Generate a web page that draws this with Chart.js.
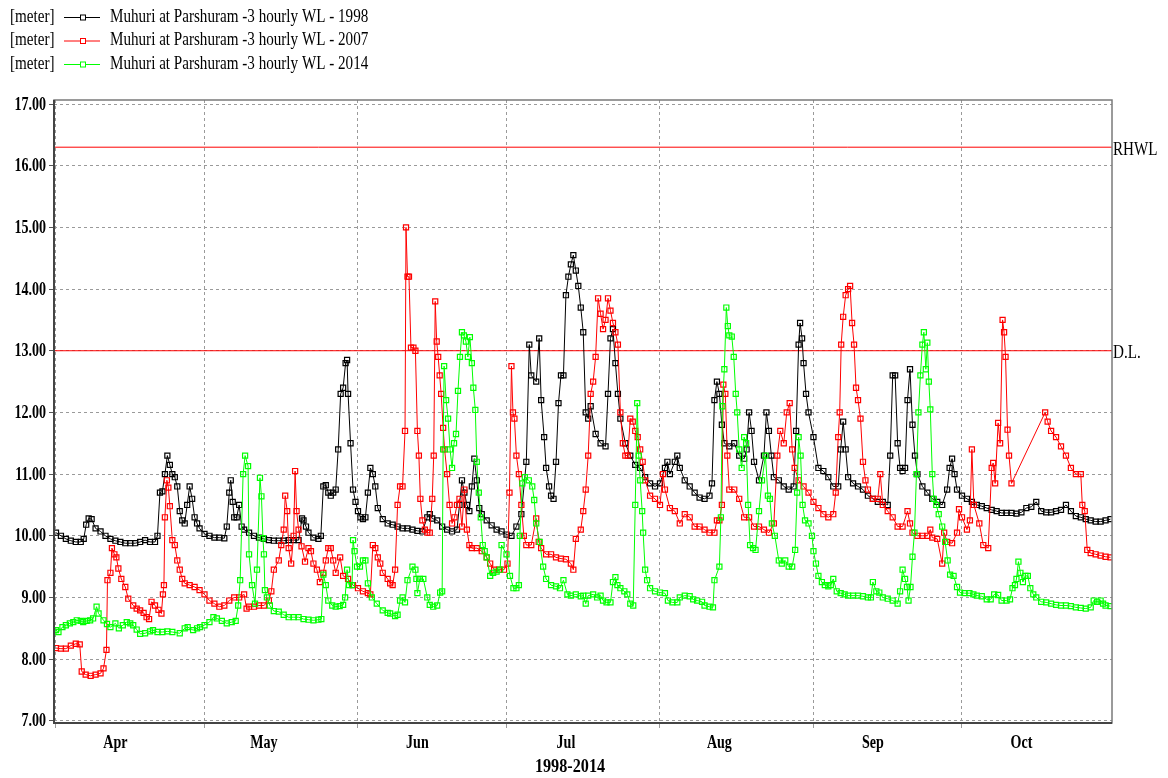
<!DOCTYPE html>
<html>
<head>
<meta charset="utf-8">
<title>Muhuri at Parshuram - 3 hourly WL</title>
<script src="https://cdn.jsdelivr.net/npm/chart.js@4.4.1/dist/chart.umd.min.js"></script>
<style>
  html, body { margin: 0; padding: 0; background: #fff; }
  #wrap { width: 1168px; height: 778px; position: relative; }
</style>
</head>
<body>
<div id="wrap"><canvas id="wlChart"></canvas></div>
<script>
// x = days counted from 1 April, y = water level in meter
const monthNames = ['Apr', 'May', 'Jun', 'Jul', 'Aug', 'Sep', 'Oct'];
const monthStartDays = [0, 30, 61, 91, 122, 153, 183];
const levelTicks = [7, 8, 9, 10, 11, 12, 13, 14, 15, 16, 17];
const unitLabel = '[meter]';
const seriesNames = [
  'Muhuri at Parshuram -3 hourly WL - 1998',
  'Muhuri at Parshuram -3 hourly WL - 2007',
  'Muhuri at Parshuram -3 hourly WL - 2014'
];
const axisTitle = '1998-2014';
const refNames = ['RHWL', 'D.L.'];
const refLevels = [16.3, 13.0];

const wl1998 = [
  [0,10.05],[1,10.0],[2,9.95],[3,9.92],[4,9.9],[5,9.9],[5.6,9.95],[6.1,10.18],[6.6,10.28],[7.2,10.27],[8,10.12],[9,10.07],
  [10,10.0],[11,9.95],[12,9.92],[13,9.9],[14,9.88],[15,9.88],[16,9.88],[17,9.9],[18,9.93],[19,9.9],[20,9.9],[20.5,10.0],
  [21,10.7],[21.5,10.72],[22,11.0],[22.5,11.3],[23,11.15],[23.5,11.0],[24,10.95],[24.5,10.8],[25,10.4],[25.5,10.25],[26,10.2],
  [26.5,10.5],[27,10.8],[27.5,10.6],[28,10.3],[28.5,10.2],[29,10.12],[30,10.03],[31,10.0],[32,9.97],[33,9.97],[34,9.96],
  [34.5,10.15],[35,10.7],[35.3,10.9],[35.7,10.55],[36,10.3],[36.5,10.3],[37,10.5],[37.5,10.15],[38,10.1],[39,10.05],[40,10.0],
  [41,9.97],[42,9.95],[43,9.93],[44,9.92],[45,9.92],[46,9.92],[47,9.93],[48,9.93],[49,9.93],[49.7,10.28],[50,10.25],[50.5,10.15],
  [51,10.05],[52,9.97],[53,9.95],[53.5,10.0],[54,10.8],[54.5,10.82],[55,10.7],[55.5,10.65],[56,10.7],[56.5,10.75],[57,11.4],
  [57.5,12.3],[58,12.4],[58.5,12.8],[58.8,12.85],[59,12.3],[59.5,11.5],[60,10.75],[60.5,10.55],[61,10.4],[61.5,10.3],[62,10.27],
  [62.5,10.3],[63,10.7],[63.5,11.1],[64,11.0],[64.5,10.8],[65,10.45],[66,10.27],[67,10.2],[68,10.18],[69,10.15],[70,10.12],
  [71,10.12],[72,10.1],[73,10.08],[74,10.07],[75,10.3],[75.5,10.35],[76,10.28],[77,10.25],[78,10.15],[79,10.1],[80,10.07],
  [81,10.1],[81.5,10.5],[82,10.9],[82.5,10.7],[83,10.5],[83.5,10.4],[84,10.8],[84.5,11.25],[85,10.9],[85.5,10.45],[86,10.35],
  [87,10.25],[88,10.17],[89,10.1],[90,10.07],[91,10.02],[92,10.0],[93,10.15],[94,10.35],[95,11.2],[95.6,13.1],[96,12.6],
  [97,12.5],[97.6,13.2],[98,12.2],[98.6,11.6],[99,11.1],[99.6,10.8],[100,10.65],[100.5,10.6],[101,11.2],[101.5,12.15],[102,12.6],
  [102.5,12.6],[103,13.9],[103.5,14.2],[104,14.4],[104.5,14.55],[105,14.3],[105.5,14.05],[106,13.7],[106.5,13.3],[107,12.0],
  [107.5,11.9],[108,12.1],[109,11.65],[110,11.5],[111,11.45],[111.5,12.3],[112,13.2],[112.5,13.35],[113,12.8],[113.5,12.3],
  [114,11.9],[115,11.5],[116,11.3],[117,11.15],[118,11.1],[119,10.95],[120,10.85],[121,10.8],[122,10.85],[123,11.1],[123.5,11.2],
  [124,11.0],[125,11.2],[125.5,11.3],[126,11.1],[127,10.9],[128,10.8],[129,10.7],[130,10.62],[131,10.6],[132,10.65],[132.5,10.85],
  [133,12.2],[133.5,12.5],[134,12.3],[134.5,11.8],[135,11.5],[136,11.45],[137,11.5],[138,11.3],[139,11.25],[139.5,11.4],[140,12.0],
  [140.5,11.7],[141,11.2],[142,10.9],[143,11.3],[143.5,12.0],[144,11.7],[144.5,11.3],[145,10.95],[146,10.9],[147,10.8],[148,10.75],
  [149,10.8],[149.5,11.7],[150,13.1],[150.3,13.45],[150.7,13.2],[151,12.8],[151.5,12.3],[152,12.0],[153,11.6],[154,11.1],
  [155,11.05],[156,10.95],[157,10.8],[158,10.8],[158.5,11.4],[159,11.85],[159.5,11.4],[160,10.95],[161,10.85],[162,10.8],
  [163,10.75],[164,10.65],[165,10.6],[166,10.55],[167,10.55],[168,10.5],[168.5,11.3],[169,12.6],[169.5,12.6],[170,11.5],
  [170.5,11.1],[171,11.05],[171.5,11.1],[172,12.2],[172.5,12.7],[173,11.8],[173.5,11.3],[174,11.0],[175,10.8],[176,10.7],
  [177,10.6],[178,10.55],[179,10.5],[180,10.75],[180.5,11.1],[181,11.25],[181.5,11.0],[182,10.75],[183,10.65],[184,10.6],
  [185,10.55],[186,10.5],[187,10.48],[188,10.45],[189,10.42],[190,10.4],[191,10.37],[192,10.37],[193,10.37],[194,10.36],
  [195,10.38],[196,10.45],[197,10.47],[198,10.55],[199,10.4],[200,10.38],[201,10.38],[202,10.4],[203,10.42],[204,10.5],
  [205,10.4],[206,10.32],[207,10.3],[208,10.27],[209,10.25],[210,10.23],[211,10.23],[212,10.25],[213,10.27]
];

const wl2007 = [
  [0,8.18],[1,8.17],[2,8.17],[3,8.22],[4,8.25],[4.8,8.24],[5.2,7.8],[6,7.75],[7,7.73],[8,7.75],[9,7.77],[9.6,7.85],
  [10.2,8.15],[10.4,9.28],[11,9.4],[11.3,9.8],[11.8,9.7],[12.2,9.65],[12.6,9.47],[13.2,9.3],[14,9.17],[14.6,8.98],[15.6,8.87],
  [16.3,8.82],[17,8.79],[17.7,8.75],[18.3,8.68],[18.8,8.65],[19.3,8.93],[20,8.87],[20.7,8.8],[21.3,8.74],[21.6,9.05],[21.8,9.2],
  [22,10.3],[22.4,10.9],[22.7,10.78],[23,10.48],[23.5,9.93],[24,9.85],[24.5,9.6],[25,9.45],[25.5,9.3],[26,9.23],[27,9.2],
  [28,9.17],[29,9.12],[30,9.05],[31,8.95],[32,8.9],[33,8.85],[34,8.87],[35,8.95],[36,9.0],[37,9.0],[38,9.05],[38.5,8.82],
  [39,8.85],[40,8.85],[41,8.87],[42,8.87],[43,8.95],[43.5,9.1],[44,9.45],[45,9.6],[45.5,9.85],[46,10.1],[46.3,10.65],[46.7,10.4],
  [47,9.8],[47.5,9.55],[48,10.0],[48.3,11.05],[48.6,10.4],[49,10.1],[49.6,9.83],[50.3,9.58],[51,9.8],[51.5,9.75],[52,9.55],
  [52.7,9.45],[53.3,9.25],[54,9.4],[54.5,9.6],[55,9.8],[55.5,9.8],[56,9.6],[56.5,9.4],[57.4,9.65],[58,9.35],[59,9.3],[60,9.2],
  [61,9.15],[62,9.1],[63,9.07],[63.5,9.05],[64,9.85],[64.5,9.8],[65,9.65],[65.5,9.55],[66,9.4],[67,9.3],[67.5,9.23],[68,9.2],
  [68.5,9.45],[69,10.5],[69.5,10.8],[70,10.8],[70.5,11.7],[70.7,15.0],[71,14.2],[71.3,14.2],[71.7,13.05],[72.2,13.05],[72.6,13.0],
  [73,11.7],[73.3,11.3],[73.6,10.6],[74,10.25],[74.5,10.1],[75,10.05],[75.5,10.05],[76,10.6],[76.3,11.3],[76.6,13.8],[76.9,13.15],
  [77.2,12.9],[77.5,12.6],[77.8,12.3],[78.2,11.75],[78.5,11.4],[79,11.0],[79.5,10.5],[80,10.2],[80.5,10.3],[81,10.5],[81.5,10.6],
  [82,10.15],[82.5,10.75],[83,10.1],[83.5,9.85],[84,9.8],[85,9.8],[86,9.75],[87,9.65],[87.7,9.55],[88.5,9.45],[89.5,9.45],
  [90.5,9.45],[91.2,9.55],[91.6,10.7],[92,12.75],[92.3,12.0],[92.6,11.9],[93,11.3],[93.5,11.0],[94,10.5],[94.5,10.0],[95,9.85],
  [96,9.85],[97,10.28],[97.5,9.9],[98,9.8],[99,9.7],[100,9.7],[101,9.65],[102,9.63],[103,9.62],[104,9.55],[104.5,9.45],
  [105,9.95],[106,10.1],[106.5,10.4],[107,10.75],[107.5,11.3],[108,12.3],[108.5,12.5],[109,12.9],[109.5,13.85],[110,13.6],
  [110.5,13.35],[111,13.5],[111.5,13.85],[112,13.65],[112.5,13.45],[113,13.3],[113.5,13.1],[114,12.0],[114.5,11.5],[115,11.3],
  [115.5,11.3],[116,11.9],[116.5,11.85],[117,11.7],[117.5,11.6],[118,11.4],[118.5,11.2],[119,10.9],[120,10.65],[121,10.6],
  [122,10.5],[122.6,11.0],[123,10.75],[124,10.45],[125,10.4],[126,10.2],[127,10.35],[128,10.3],[129,10.15],[130,10.15],
  [131,10.1],[132,10.05],[133,10.05],[133.5,10.25],[134,10.25],[134.5,10.5],[134.8,12.45],[135.2,12.3],[135.6,11.3],[136,10.75],
  [137,10.75],[138,10.6],[139,10.3],[140,10.3],[141,10.15],[142,10.15],[143,10.1],[144,10.05],[145,10.2],[145.7,11.3],[146.3,11.7],
  [147,11.5],[147.6,12.0],[148.2,12.15],[148.7,11.4],[149.2,11.1],[150,10.9],[151,10.8],[152,10.7],[153,10.55],[154,10.45],
  [155,10.35],[156,10.3],[157,10.35],[157.5,10.7],[158,11.6],[158.3,12.0],[158.6,13.1],[159,13.55],[159.5,13.9],[160,14.0],
  [160.4,14.05],[160.8,13.45],[161.2,13.1],[161.6,12.4],[162,12.2],[162.5,11.9],[163,11.2],[163.5,10.9],[164,10.75],[165,10.6],
  [166,10.6],[166.5,11.0],[167,10.5],[168,10.4],[169,10.3],[170,10.15],[171,10.15],[172,10.4],[172.5,10.2],[173,10.05],
  [174,10.0],[175,10.0],[176,10.0],[176.6,10.1],[177,9.97],[178,9.95],[179,9.55],[179.4,10.05],[180,9.9],[181,9.88],
  [182,10.05],[182.4,10.43],[183,10.3],[184,10.1],[184.6,10.25],[185,11.4],[185.4,10.5],[186.5,10.2],[187.3,9.85],[188.3,9.8],
  [189,11.1],[189.3,11.18],[189.7,10.85],[190.3,11.83],[190.7,11.5],[191.2,13.5],[191.5,13.3],[191.8,12.9],[192.2,11.72],
  [192.5,11.3],[193,10.85],[199.8,12.0],[200.3,11.85],[201,11.7],[202,11.6],[203,11.45],[204,11.3],[205,11.1],[206,11.0],
  [207,11.0],[207.3,10.5],[207.8,10.4],[208.3,9.77],[209,9.72],[210,9.7],[211,9.68],[212,9.66],[213,9.65]
];

const wl2014 = [
  [0,8.47],[0.5,8.44],[1.3,8.52],[2,8.55],[2.8,8.58],[3.5,8.6],[4.2,8.63],[5,8.62],[5.5,8.6],[6.2,8.62],[6.9,8.63],[7.5,8.66],
  [8.2,8.85],[8.6,8.74],[9.6,8.63],[10.3,8.57],[11,8.52],[12,8.58],[12.7,8.5],[13.5,8.55],[14.3,8.6],[15,8.58],[15.6,8.55],
  [16.3,8.48],[17,8.41],[18,8.42],[19,8.45],[19.6,8.47],[20.5,8.44],[21.5,8.44],[22.5,8.45],[23.5,8.44],[25,8.42],[26,8.5],
  [26.6,8.52],[27.7,8.47],[28.5,8.5],[29.1,8.52],[30,8.55],[31,8.6],[31.8,8.68],[32.5,8.66],[33.5,8.62],[34.5,8.58],[35.5,8.6],
  [36.3,8.62],[36.8,8.87],[37.2,9.28],[37.8,11.0],[38.2,11.3],[38.8,11.13],[39,9.7],[39.6,9.2],[40.2,8.9],[40.6,9.45],
  [41.2,10.94],[41.5,10.64],[41.8,9.96],[42,9.7],[42.2,9.12],[42.6,9.0],[43.2,8.87],[44,8.78],[45,8.77],[46,8.72],[47,8.68],
  [48,8.68],[49,8.68],[50,8.65],[51,8.64],[52,8.63],[53,8.64],[53.6,8.65],[54,9.37],[54.5,9.2],[55,8.95],[55.8,8.87],[56.5,8.85],
  [57.3,8.86],[58,8.88],[58.4,9.0],[58.8,9.45],[59.2,9.2],[59.8,9.2],[60,9.93],[60.3,9.75],[60.8,9.5],[61.4,9.5],[62,9.6],
  [62.5,9.6],[63,9.23],[63.8,9.0],[64.8,8.9],[66,8.79],[67,8.75],[67.5,8.74],[68.5,8.7],[69,8.72],[69.5,8.95],[70,9.0],
  [70.5,8.92],[71,9.28],[72,9.5],[72.6,9.45],[72.8,9.3],[73,9.07],[73.5,9.3],[74.2,9.3],[75,9.0],[75.5,8.88],[76.2,8.85],
  [77,8.87],[77.6,9.08],[78,9.1],[78.2,11.4],[78.4,12.75],[78.8,12.2],[79.2,11.9],[79.6,11.4],[80,11.1],[80.4,11.5],[80.8,11.65],
  [81.2,12.35],[81.6,12.9],[82,13.3],[82.4,13.25],[82.8,13.15],[83.2,12.9],[83.6,13.22],[84,12.8],[84.3,12.4],[84.7,12.04],
  [85,11.2],[85.4,10.7],[85.8,10.3],[86.2,9.85],[86.6,9.75],[87,9.65],[87.7,9.35],[88.3,9.4],[89,9.42],[89.7,9.45],[90,9.85],
  [91,9.7],[91.7,9.35],[92.4,9.15],[93,9.15],[93.5,9.2],[93.7,10.0],[94.2,10.85],[94.7,10.95],[95.5,10.9],[96.2,10.8],
  [96.6,10.58],[97,10.2],[97.7,9.9],[98.4,9.5],[99,9.3],[100,9.2],[101,9.18],[101.8,9.15],[102.5,9.28],[103.3,9.05],[104,9.03],
  [105,9.05],[106,9.02],[106.5,9.03],[107,8.9],[107.5,9.03],[108.5,9.05],[109.3,9.0],[110,9.03],[110.5,8.95],[111.2,8.92],
  [112,8.92],[112.5,9.25],[113,9.33],[113.4,9.2],[114,9.15],[114.8,9.1],[115.4,9.05],[116,8.9],[116.6,8.87],[117,10.5],
  [117.4,12.15],[117.7,11.3],[118,10.9],[118.4,10.4],[118.6,10.05],[119,9.45],[119.4,9.28],[120,9.15],[121,9.1],[122,9.08],
  [123,9.07],[123.6,8.95],[124.5,8.92],[125.5,8.92],[126,9.0],[127,9.03],[128,9.02],[128.7,8.97],[129.5,8.95],[130.5,8.93],
  [131,8.87],[132,8.85],[132.7,8.84],[133,9.28],[134,9.5],[134.3,10.3],[134.6,12.1],[135,12.7],[135.4,13.7],[135.7,13.4],
  [136,13.25],[136.5,13.23],[136.9,12.9],[137.3,12.3],[137.6,12.0],[138,11.4],[138.5,11.1],[139,11.6],[139.4,11.5],[139.8,10.5],
  [140.2,9.85],[140.8,9.8],[141.3,9.77],[142,10.4],[142.6,10.9],[143.3,11.3],[143.8,10.65],[144.2,10.6],[144.6,10.2],[145.2,10.0],
  [146,9.6],[146.6,9.55],[147.3,9.6],[148,9.5],[148.7,9.5],[149.3,9.77],[149.7,10.7],[150,11.6],[150.4,11.3],[150.8,10.5],
  [151.3,10.25],[152,10.2],[152.7,10.0],[153,9.75],[153.5,9.55],[154,9.35],[154.7,9.25],[155.3,9.2],[156,9.18],[156.5,9.2],
  [157,9.3],[157.7,9.1],[158.5,9.07],[159.3,9.05],[160,9.03],[161,9.03],[162,9.03],[163,9.02],[164,9.0],[164.6,9.0],[165,9.25],
  [165.7,9.1],[166.3,9.08],[167,9.0],[168,8.98],[169,8.95],[170,8.9],[170.5,9.1],[171,9.45],[171.5,9.3],[171.9,9.17],[172.2,8.95],
  [172.6,9.17],[173,9.66],[173.4,10.05],[173.8,11.0],[174.2,12.0],[174.6,12.6],[175,13.1],[175.3,13.3],[175.7,12.7],[176,13.13],
  [176.3,12.5],[176.6,12.05],[177,11.0],[177.3,10.6],[177.8,10.5],[178.3,10.35],[179,10.15],[179.6,9.9],[180.1,9.6],[180.6,9.37],
  [181.3,9.35],[182,9.17],[182.6,9.08],[183.5,9.07],[184.5,9.07],[185.3,9.05],[186,9.03],[187,9.02],[188,8.97],[188.8,8.97],
  [189.5,9.05],[190.3,9.04],[191,8.95],[192,8.95],[192.7,8.97],[193.2,9.15],[193.7,9.2],[194,9.3],[194.4,9.58],[194.8,9.4],
  [195.3,9.25],[195.8,9.35],[196.3,9.35],[196.8,9.15],[197.4,9.05],[198,9.0],[199,8.93],[200,8.92],[201,8.9],[202,8.88],
  [203,8.87],[204,8.87],[205,8.86],[206,8.84],[207,8.83],[208,8.82],[209,8.84],[209.6,8.95],[210.3,8.93],[211,8.95],
  [211.5,8.9],[212,8.87],[213,8.86]
];

const X_MIN = -0.4, X_MAX = 213.3;
const Y_MIN = 6.965, Y_MAX = 17.065;
const SERIF = '"Liberation Serif", "Times New Roman", serif';
const seriesColors = ['#000000', '#ff0000', '#00ff00'];
const gridGray = '#9a9a9a';

function toPoints(arr) {
  return arr.map(p => ({ x: p[0], y: p[1] }));
}

// text in the original looks tall and narrow, so squeeze it horizontally
function narrowText(ctx, text, x, y, align, font, squeeze) {
  ctx.save();
  ctx.translate(x, y);
  ctx.scale(squeeze, 1);
  ctx.font = font;
  ctx.textAlign = align;
  ctx.textBaseline = 'middle';
  ctx.fillStyle = '#000';
  ctx.fillText(text, 0, 0);
  ctx.restore();
}

const labelDays = monthStartDays.map(d => d + 12);

const decorPlugin = {
  id: 'decor',
  afterDraw(chart) {
    const ctx = chart.ctx;
    const area = chart.chartArea;
    const xs = chart.scales.x;
    const ys = chart.scales.y;

    // frame
    ctx.save();
    ctx.strokeStyle = '#7a7a7a';
    ctx.lineWidth = 1.5;
    ctx.strokeRect(area.left, area.top, area.right - area.left, area.bottom - area.top);
    ctx.strokeStyle = '#444';
    ctx.lineWidth = 2;
    ctx.beginPath();
    ctx.moveTo(area.left, area.top);
    ctx.lineTo(area.left, area.bottom);
    ctx.lineTo(area.right, area.bottom);
    ctx.stroke();
    ctx.restore();

    // y tick labels
    levelTicks.forEach(v => {
      narrowText(ctx, v.toFixed(2), area.left - 8, ys.getPixelForValue(v) + 1, 'right', 'bold 18px ' + SERIF, 0.78);
    });

    // month labels
    monthNames.forEach((m, i) => {
      narrowText(ctx, m, xs.getPixelForValue(labelDays[i]), 743, 'center', 'bold 18px ' + SERIF, 0.78);
    });
    narrowText(ctx, axisTitle, 570, 767, 'center', 'bold 18px ' + SERIF, 0.9);

    // reference line names
    refNames.forEach((n, i) => {
      narrowText(ctx, n, area.right + 1, ys.getPixelForValue(refLevels[i]) + 3, 'left', '18px ' + SERIF, 0.84);
    });

    // legend
    seriesNames.forEach((name, i) => {
      const y = 17 + i * 23.5;
      narrowText(ctx, unitLabel, 10, y, 'left', '18px ' + SERIF, 0.84);
      ctx.save();
      ctx.strokeStyle = seriesColors[i];
      ctx.lineWidth = 1;
      ctx.beginPath();
      ctx.moveTo(64, y + 0.5);
      ctx.lineTo(100, y + 0.5);
      ctx.stroke();
      ctx.fillStyle = '#fff';
      ctx.fillRect(80, y - 2, 5, 5);
      ctx.strokeRect(80.5, y - 2, 5, 5);
      ctx.restore();
      narrowText(ctx, name, 110, y, 'left', '18px ' + SERIF, 0.84);
    });
  }
};

function seriesDataset(label, arr, color, order) {
  return {
    label: label,
    data: toPoints(arr),
    borderColor: color,
    borderWidth: 1,
    pointStyle: 'rect',
    pointRadius: 3.6,
    pointBorderWidth: 1.2,
    pointBorderColor: color,
    pointBackgroundColor: 'rgba(255,255,255,0)',
    tension: 0,
    order: order
  };
}

function refDataset(label, level) {
  return {
    label: label,
    data: [{ x: X_MIN, y: level }, { x: X_MAX, y: level }],
    borderColor: '#ff0000',
    borderWidth: 1,
    pointRadius: 0,
    order: 10
  };
}

new Chart(document.getElementById('wlChart'), {
  type: 'line',
  data: {
    datasets: [
      seriesDataset(seriesNames[0], wl1998, seriesColors[0], 3),
      seriesDataset(seriesNames[1], wl2007, seriesColors[1], 2),
      seriesDataset(seriesNames[2], wl2014, seriesColors[2], 1),
      refDataset(refNames[0], refLevels[0]),
      refDataset(refNames[1], refLevels[1])
    ]
  },
  options: {
    responsive: true,
    maintainAspectRatio: false,
    animation: false,
    events: [],
    layout: { padding: { top: 100, right: 56, left: 0, bottom: 0 } },
    plugins: {
      legend: { display: false },
      tooltip: { enabled: false }
    },
    scales: {
      x: {
        type: 'linear',
        min: X_MIN,
        max: X_MAX,
        afterBuildTicks(scale) {
          scale.ticks = monthStartDays.map(v => ({ value: v }));
        },
        afterFit(scale) { scale.height = 55; },
        ticks: { display: false },
        grid: {
          color: gridGray,
          lineWidth: 1,
          drawTicks: true,
          tickLength: 5,
          tickColor: gridGray
        },
        border: { display: false, dash: [3, 3] }
      },
      y: {
        type: 'linear',
        min: Y_MIN,
        max: Y_MAX,
        afterBuildTicks(scale) {
          scale.ticks = levelTicks.map(v => ({ value: v }));
        },
        afterFit(scale) { scale.width = 54; },
        ticks: { display: false },
        grid: {
          color: gridGray,
          lineWidth: 1,
          drawTicks: true,
          tickLength: 5,
          tickColor: '#555'
        },
        border: { display: false, dash: [3, 3] }
      }
    }
  },
  plugins: [decorPlugin]
});
</script>
</body>
</html>
